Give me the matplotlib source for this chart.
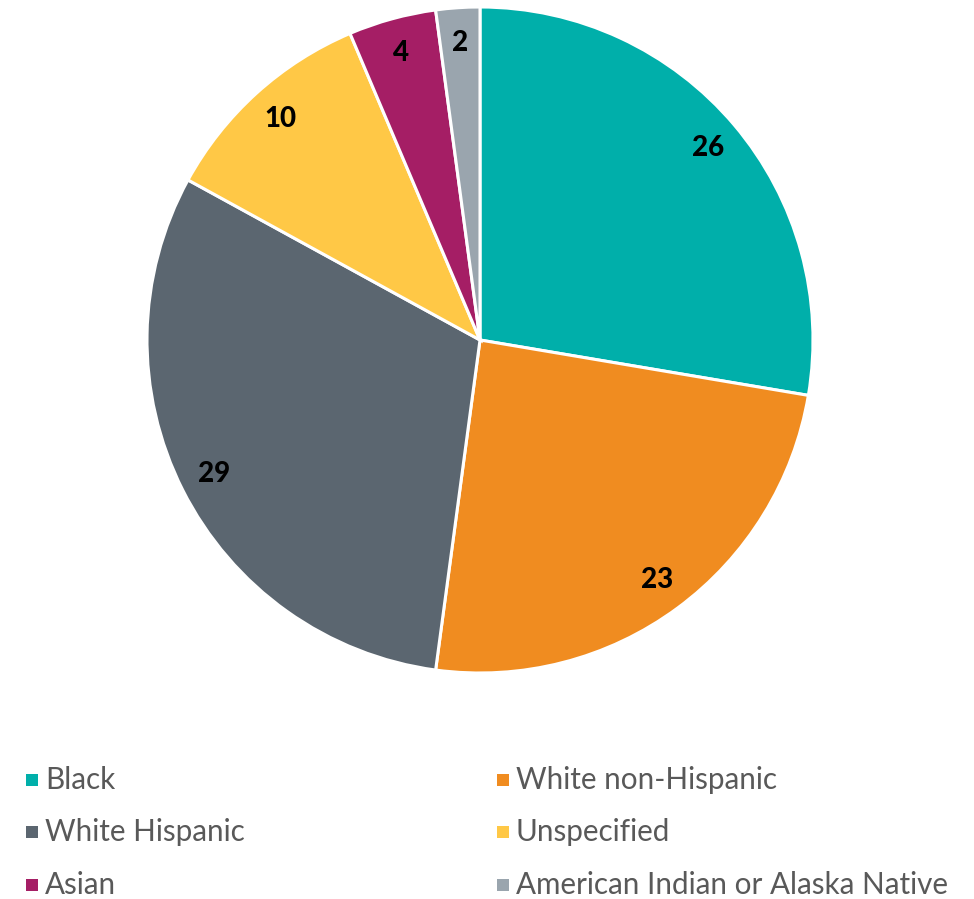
import matplotlib.pyplot as plt
from matplotlib.patches import Rectangle

groups = ["Black", "White non-Hispanic", "White Hispanic", "Unspecified",
          "Asian", "American Indian or Alaska Native"]
counts = [26, 23, 29, 10, 4, 2]
colors = ["#00AFAA", "#F08C20", "#5B6670", "#FFC846", "#A51E65", "#9AA5AE"]

plt.rcParams['font.family'] = ['Lato', 'DejaVu Sans']

W, H = 974, 899
fig = plt.figure(figsize=(W / 100, H / 100), dpi=100)

# pie: centre (480, 340) px, radius 333 px
cx, cy, r = 480, 340, 333
ax = fig.add_axes([(cx - r) / W, (H - cy - r) / H, 2 * r / W, 2 * r / H])
wedges, texts = ax.pie(counts, colors=colors, startangle=90, counterclock=False,
                       labels=[str(c) for c in counts], labeldistance=0.895,
                       wedgeprops=dict(edgecolor="white", linewidth=2.2),
                       textprops=dict(fontsize=20, fontweight="black", color="black"))
for t in texts:
    t.set_ha("center")
    t.set_va("center")
ax.set_xlim(-1, 1)
ax.set_ylim(-1, 1)
ax.set_aspect("equal")
ax.axis("off")

# legend, filled row by row in two columns
col_x = [26, 497]
row_y = [780, 832, 885]
sq = 12
for i, (g, c) in enumerate(zip(groups, colors)):
    x = col_x[i % 2]
    y = row_y[i // 2]
    fig.patches.append(Rectangle((x / W, (H - y - sq / 2) / H), sq / W, sq / H,
                                 transform=fig.transFigure, facecolor=c,
                                 edgecolor="none"))
    fig.text((x + sq + 7) / W, (H - y) / H, g, fontsize=21.3, color="#595959",
             ha="left", va="center")

fig.savefig("out.png", dpi=100)
